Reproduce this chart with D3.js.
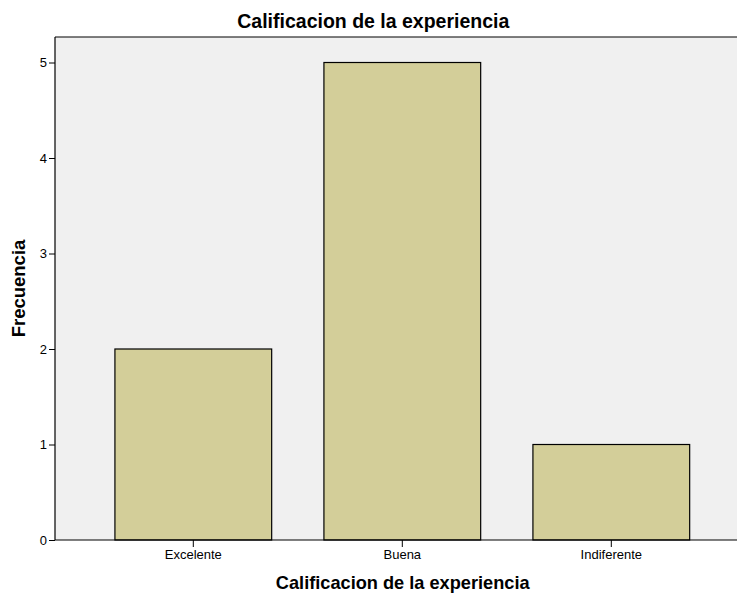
<!DOCTYPE html>
<html><head><meta charset="utf-8">
<script src="https://cdn.jsdelivr.net/npm/d3@7"></script>
<style>body{margin:0;background:#fff}svg{display:block}text{font-family:"Liberation Sans",Arial,sans-serif}</style>
</head><body><svg id="c" width="737" height="595"></svg>
<script>
const categories = ["Excelente", "Buena", "Indiferente"];
const values = [2, 5, 1];
const yTicks = [0, 1, 2, 3, 4, 5];
const title = "Calificacion de la experiencia";
const xTitle = "Calificacion de la experiencia";
const yTitle = "Frecuencia";

const svg = d3.select("#c");
const plot = {left: 55, right: 737, top: 37, bottom: 540};

const y = d3.scaleLinear().domain([0, 5]).range([540, 62.5]);
const x = d3.scaleBand().domain(categories).range([88.8, 715.8]).paddingInner(0.25).paddingOuter(0.125);

svg.append("rect").attr("x", plot.left).attr("y", plot.top)
  .attr("width", plot.right - plot.left).attr("height", plot.bottom - plot.top)
  .attr("fill", "#f0f0f0");

svg.append("g").selectAll("rect").data(values).join("rect")
  .attr("x", (d, i) => x(categories[i]))
  .attr("y", d => y(d))
  .attr("width", x.bandwidth())
  .attr("height", d => y(0) - y(d))
  .attr("fill", "#d3ce99").attr("stroke", "#000").attr("stroke-width", 1.2);

svg.append("line").attr("x1", plot.left).attr("x2", plot.right).attr("y1", plot.top).attr("y2", plot.top)
  .attr("stroke", "#000").attr("stroke-width", 1.2);

const yAxis = svg.append("g").attr("transform", `translate(${plot.left},0)`)
  .call(d3.axisLeft(y).tickValues(yTicks).tickSize(6).tickPadding(2).tickFormat(d3.format("d")));
yAxis.select(".domain").attr("d", `M0,${plot.top}V${plot.bottom}`).attr("stroke-width", 1.2);
yAxis.selectAll("text").attr("font-size", 13).attr("fill", "#000").attr("font-family", "Liberation Sans, Arial, sans-serif");

const xAxis = svg.append("g").attr("transform", `translate(0,${plot.bottom})`)
  .call(d3.axisBottom(x).tickSize(7).tickPadding(3));
xAxis.select(".domain").attr("d", `M${plot.left},0H${plot.right}`).attr("stroke-width", 1.2);
xAxis.selectAll("text").attr("font-size", 13).attr("fill", "#000").attr("font-family", "Liberation Sans, Arial, sans-serif");

svg.append("text").attr("x", 373.3).attr("y", 28).attr("text-anchor", "middle")
  .attr("font-size", 19.5).attr("font-weight", "bold").text(title);
svg.append("text").attr("x", 402.7).attr("y", 589).attr("text-anchor", "middle")
  .attr("font-size", 18.2).attr("font-weight", "bold").text(xTitle);
svg.append("text").attr("transform", "translate(25,288.5) rotate(-90)").attr("text-anchor", "middle")
  .attr("font-size", 18.5).attr("font-weight", "bold").text(yTitle);
</script></body></html>
